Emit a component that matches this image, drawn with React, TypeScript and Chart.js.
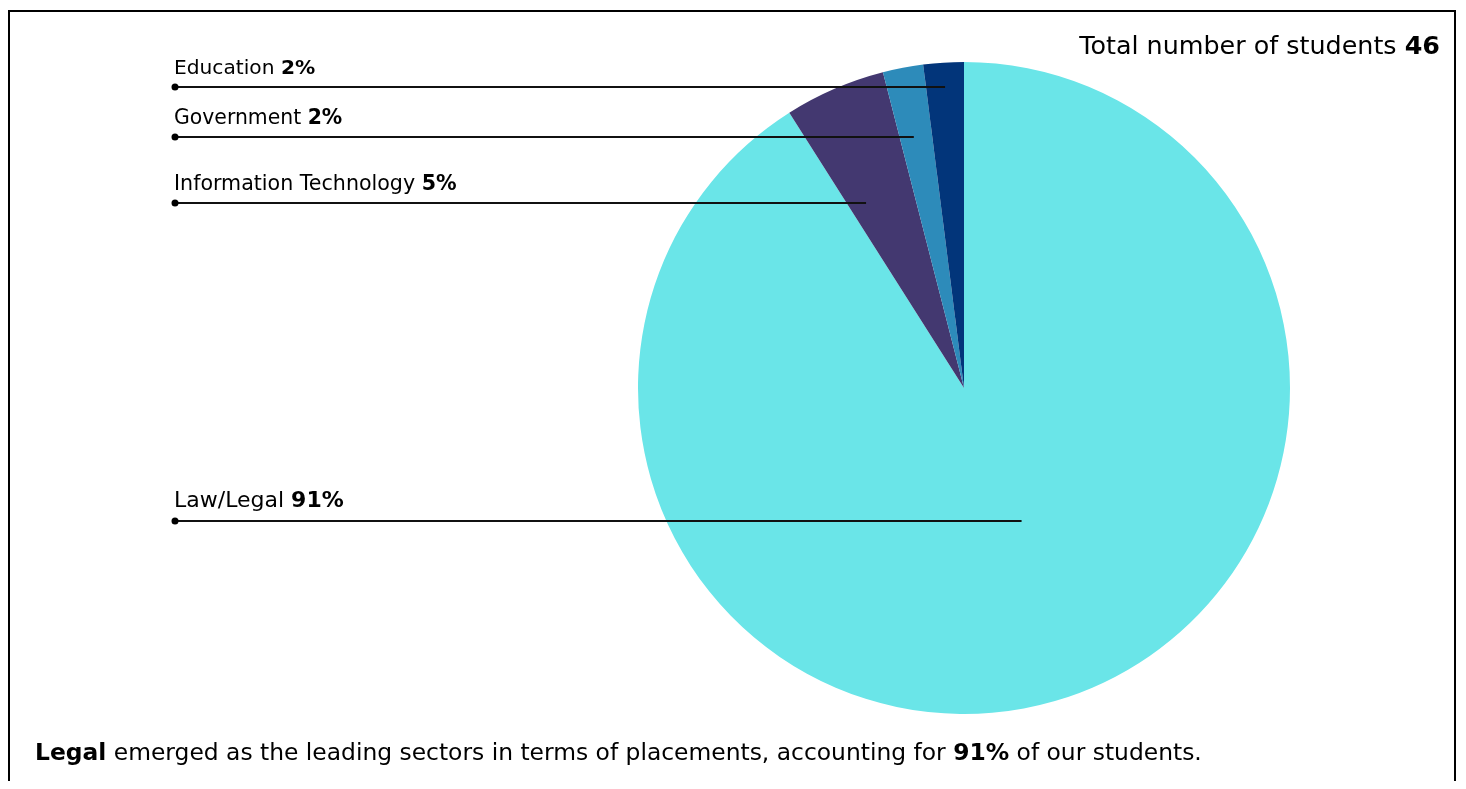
import React, { useEffect, useRef } from "react";
import { Chart, registerables } from "chart.js";

Chart.register(...registerables);

// ---- data ----
const categories = ["Law/Legal", "Information Technology", "Government", "Education"];
const percentages = [91, 5, 2, 2];
const sliceColors = ["#6ae5e8", "#433870", "#2d8bba", "#02357a"];
const totalStudents = 46;
const leadingSector = "Legal";

// ---- layout (canvas px) ----
const labelLineY = [509, 191, 125, 75];
const labelTextGap = [14, 13, 13, 13];
const labelSize = [22, 20.6, 20.4, 20.2];
const anchorFrac = [0.478, 0.25, 0.43, 0.5];
const dotX = 165;
const FONT = "'DejaVu Sans', sans-serif";

const leaderPlugin = {
  id: "leaders",
  afterDatasetsDraw(chart: any) {
    const ctx: CanvasRenderingContext2D = chart.ctx;
    const meta = chart.getDatasetMeta(0);
    meta.data.forEach((arc: any, i: number) => {
      const { x, y, startAngle, endAngle } = arc.getProps(["x", "y", "startAngle", "endAngle"], true);
      const ang = startAngle + (endAngle - startAngle) * anchorFrac[i];
      const ly = labelLineY[i];
      const t = (ly - y) / Math.sin(ang);
      const ex = x + t * Math.cos(ang);
      ctx.save();
      ctx.strokeStyle = "#111";
      ctx.lineWidth = 2;
      ctx.beginPath();
      ctx.moveTo(dotX, ly);
      ctx.lineTo(ex, ly);
      ctx.stroke();
      ctx.fillStyle = "#000";
      ctx.beginPath();
      ctx.arc(dotX, ly, 3.5, 0, Math.PI * 2);
      ctx.fill();
      const ty = ly - labelTextGap[i];
      ctx.textBaseline = "alphabetic";
      ctx.textAlign = "left";
      ctx.font = `400 ${labelSize[i]}px ${FONT}`;
      const name = categories[i] + " ";
      ctx.fillText(name, dotX - 1, ty);
      const w = ctx.measureText(name).width;
      ctx.font = `700 ${labelSize[i]}px ${FONT}`;
      ctx.fillText(`${percentages[i]}%`, dotX - 1 + w, ty);
      ctx.restore();
    });
  },
};

export default function App() {
  const ref = useRef<HTMLCanvasElement | null>(null);
  useEffect(() => {
    if (!ref.current) return;
    const chart = new Chart(ref.current, {
      type: "pie",
      data: {
        labels: categories,
        datasets: [
          {
            data: percentages,
            backgroundColor: sliceColors,
            borderWidth: 0,
          },
        ],
      },
      options: {
        animation: false,
        responsive: false,
        layout: { padding: { left: 628, right: 164, top: 50, bottom: 67 } },
        plugins: {
          legend: { display: false },
          tooltip: { enabled: false },
        },
      },
      plugins: [leaderPlugin],
    });
    return () => chart.destroy();
  }, []);

  return (
    <div
      style={{
        position: "relative",
        marginTop: 2,
        width: 1444,
        height: 769,
        border: "2px solid #000",
        borderBottom: "none",
        fontFamily: FONT,
        color: "#000",
        overflow: "hidden",
      }}
    >
      <canvas ref={ref} width={1444} height={769} style={{ position: "absolute", left: 0, top: 0, width: 1444, height: 769 }} />
      <div style={{ position: "absolute", right: 14, top: 18, fontSize: 25.4, lineHeight: "30px", whiteSpace: "nowrap" }}>
        Total number of students <b>{totalStudents}</b>
      </div>
      <div style={{ position: "absolute", left: 25, top: 726, fontSize: 23.4, lineHeight: "28px", whiteSpace: "nowrap" }}>
        <b>{leadingSector}</b> emerged as the leading sectors in terms of placements, accounting for <b>{percentages[0]}%</b> of our students.
      </div>
    </div>
  );
}
